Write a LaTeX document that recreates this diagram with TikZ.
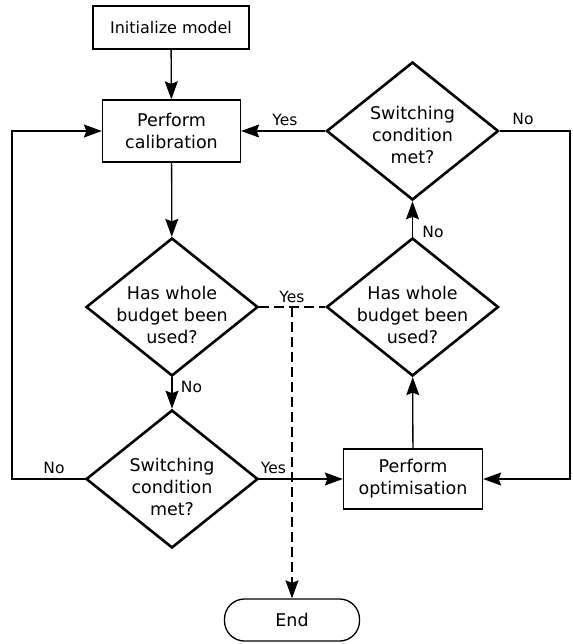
\documentclass[tikz,border=0pt]{standalone}
\usepackage{fontspec}
\setmainfont{DejaVu Sans}
\usetikzlibrary{shapes.geometric,arrows.meta}
\begin{document}
\begin{tikzpicture}[x=1pt,y=-1pt,
  every node/.style={font=\fontsize{17.5}{22}\selectfont, align=center},
  box/.style={draw, line width=1.3pt, inner sep=0pt},
  dec/.style={draw, diamond, line width=2.6pt, shape aspect=1.25, inner sep=-15pt,
    minimum width=172pt, minimum height=138pt},
  term/.style={draw, line width=1.3pt, rounded corners=20pt, minimum width=135pt, minimum height=42pt},
  lbl/.style={font=\fontsize{15.5}{18}\selectfont, inner sep=0pt},
  conn/.style={line width=1.3pt},
  tip/.style={-{Stealth[length=18pt,width=13pt,inset=2.5pt]}},
  arr/.style={conn, tip},
  dsh/.style={conn, dash pattern=on 10pt off 5pt}
]
\useasboundingbox (0,0) rectangle (572,644);
\node[box, minimum width=156pt, minimum height=43pt, font=\fontsize{16}{20}\selectfont] (init) at (171,27.5) {Initialize model};
\node[box, minimum width=138pt, minimum height=62pt] (calib) at (171.5,131) {Perform\\calibration};
\node[dec] (d1) at (172,307) {\rule{0pt}{29pt}Has whole\\budget been\\used?};
\node[dec] (d2) at (172,479) {\rule{0pt}{29pt}Switching\\condition\\met?};
\node[dec] (d3) at (412.5,307) {\rule{0pt}{29pt}Has whole\\budget been\\used?};
\node[dec] (d4) at (412.5,131) {\rule{0pt}{21.5pt}Switching\\condition\\met?};
\node[box, minimum width=139pt, minimum height=60pt] (opt) at (413,479) {Perform\\optimisation};
\node[term] (end) at (292,620) {End};

\coordinate (lt) at (12,131);
\coordinate (lb) at (12,479);
\coordinate (rt) at (570,131);
\coordinate (rb) at (570,479);
\coordinate (j) at (292,307);

\draw[arr] (init) -- (calib);
\draw[arr] (calib) -- (d1);
\draw[arr] (d1) -- (d2);
\draw[arr] (d2.west) -- (lb) -- (lt) -- (calib.west);
\draw[arr] (d2.east) -- (opt.west);
\draw[arr] (opt) -- (d3);
\draw[arr] (d3) -- (d4);
\draw[arr] (d4.west) -- (calib.east);
\draw[arr] (d4.east) -- (rt) -- (rb) -- (opt.east);
\draw[dsh] (d1.east) -- (d3.west);
\draw[dsh, tip] (j) -- (end.north);

\node[lbl] (l1) at (191.5,387) {No};
\node[lbl] (l2) at (54,468) {No};
\node[lbl] (l3) at (273.5,468) {Yes};
\node[lbl] (l4) at (433,232) {No};
\node[lbl] (l5) at (285,120) {Yes};
\node[lbl] (l6) at (523,119) {No};
\node[lbl] (l7) at (292,297) {Yes};
\end{tikzpicture}
\end{document}
